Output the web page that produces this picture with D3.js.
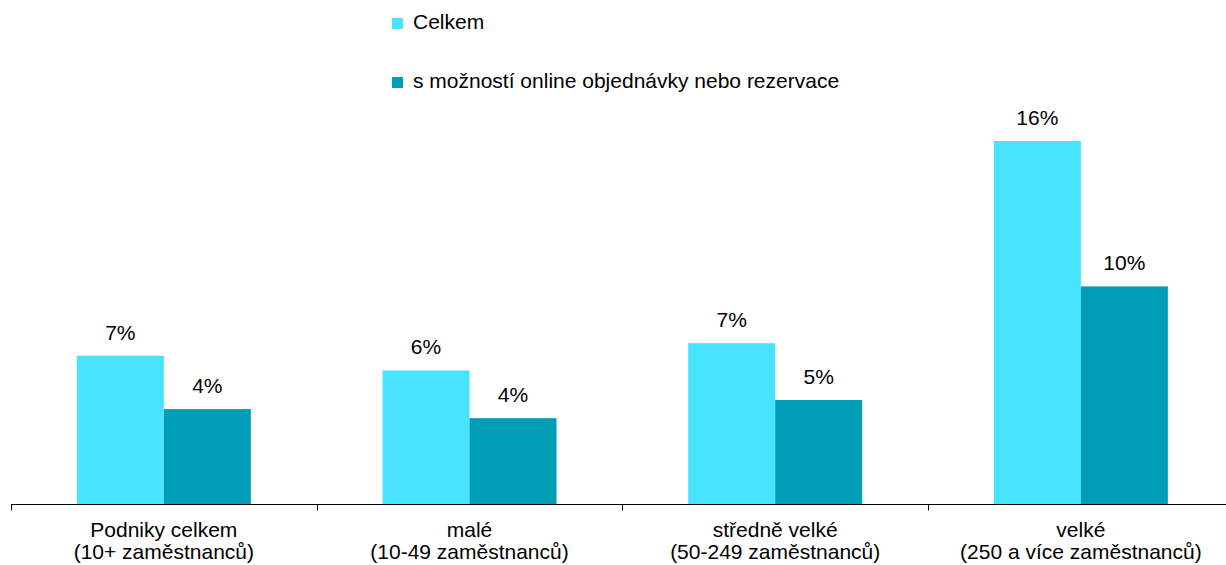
<!DOCTYPE html>
<head>
    <meta charset="utf-8">
    <script src="https://d3js.org/d3.v7.min.js"></script>
    <style>
        body { margin: 0; background: #fff; }
        text { font-family: "Liberation Sans", Arial, sans-serif; fill: #000; }
        .label { font-size: 21px; }
    </style>
</head>
<body>
    <div id='chart-container'></div>
</body>
<script>
    // categories (two-line labels) and series
    var categories = ["Podniky celkem", "malé", "středně velké", "velké"]
    var subLabels = ["(10+ zaměstnanců)", "(10-49 zaměstnanců)", "(50-249 zaměstnanců)", "(250 a více zaměstnanců)"]
    var seriesNames = ["Celkem", "s možností online objednávky nebo rezervace"]
    var celkem = [6.55, 5.9, 7.1, 16.0]
    var online = [4.2, 3.8, 4.6, 9.6]
    var colors = ["#48e4ff", "#009db7"]

    var width = 1226, height = 565
    var baseY = 504.5

    var svg = d3.select("#chart-container").append("svg")
        .attr("width", width)
        .attr("height", height)

    var data = categories.map(function(c, i){
        return {cat: c, sub: subLabels[i], values: [celkem[i], online[i]]}
    })

    // outer band per category, inner band per series
    var x0 = d3.scaleBand()
        .domain(categories)
        .range([11, 1233.7])
        .paddingInner(0)
        .paddingOuter(0)

    var x1 = d3.scaleBand()
        .domain([0, 1])
        .range([x0.bandwidth() / 2 - 87, x0.bandwidth() / 2 + 87])

    var y = d3.scaleLinear()
        .domain([0, 16])
        .range([baseY, 141])

    var groups = svg.selectAll('g.grp')
        .data(data)
        .enter().append('g')
        .attr('class', 'grp')
        .attr('transform', function(d){ return "translate(" + x0(d.cat) + ",0)" })

    groups.selectAll('rect')
        .data(function(d){ return d.values })
        .enter().append('rect')
        .attr('x', function(d, i){ return x1(i) })
        .attr('width', x1.bandwidth())
        .attr('y', function(d){ return y(d) })
        .attr('height', function(d){ return baseY - y(d) })
        .attr('fill', function(d, i){ return colors[i] })

    // value labels
    groups.selectAll('text.val')
        .data(function(d){ return d.values })
        .enter().append('text')
        .attr('class', 'label val')
        .attr('text-anchor', 'middle')
        .attr('x', function(d, i){ return x1(i) + x1.bandwidth() / 2 })
        .attr('y', function(d){ return y(d) - 16 })
        .text(function(d){ return d3.format(".0f")(d) + "%" })

    // baseline axis with ticks between categories
    svg.append('line')
        .attr('x1', 11).attr('x2', width)
        .attr('y1', baseY).attr('y2', baseY)
        .attr('stroke', '#000').attr('stroke-width', 1)

    svg.selectAll('line.tick')
        .data(categories.concat(['end']))
        .enter().append('line')
        .attr('class', 'tick')
        .attr('x1', function(d, i){ return Math.round(11 + i * x0.step()) + 0.5 })
        .attr('x2', function(d, i){ return Math.round(11 + i * x0.step()) + 0.5 })
        .attr('y1', baseY).attr('y2', baseY + 6)
        .attr('stroke', '#000')

    // category labels
    var catLabels = svg.selectAll('text.cat')
        .data(data)
        .enter().append('text')
        .attr('class', 'label cat')
        .attr('text-anchor', 'middle')
        .attr('x', function(d){ return x0(d.cat) + x0.bandwidth() / 2 })
    catLabels.append('tspan')
        .attr('y', 537)
        .attr('x', function(d){ return x0(d.cat) + x0.bandwidth() / 2 })
        .text(function(d){ return d.cat })
    catLabels.append('tspan')
        .attr('y', 559)
        .attr('x', function(d){ return x0(d.cat) + x0.bandwidth() / 2 })
        .text(function(d){ return d.sub })

    // legend
    var legend = svg.selectAll('g.legend')
        .data(seriesNames)
        .enter().append('g')
        .attr('class', 'legend')
        .attr('transform', function(d, i){ return "translate(392," + (18 + i * 59) + ")" })
    legend.append('rect')
        .attr('width', 11).attr('height', 11)
        .attr('fill', function(d, i){ return colors[i] })
    legend.append('text')
        .attr('class', 'label')
        .attr('x', 21).attr('y', 11)
        .text(function(d){ return d })
</script>
